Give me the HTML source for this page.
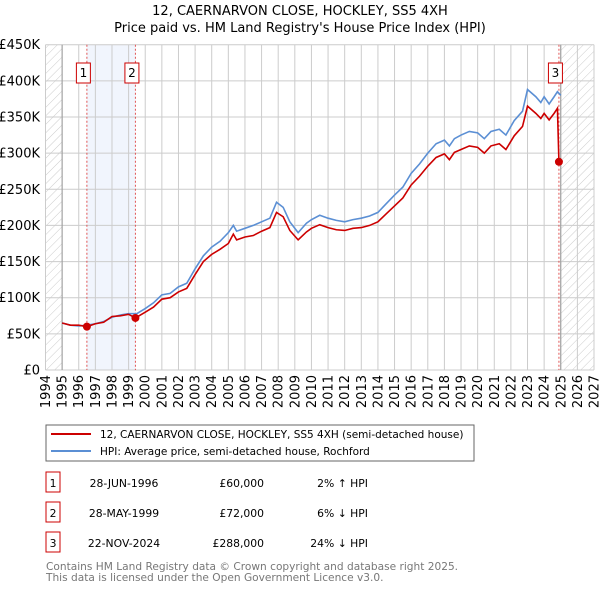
<!DOCTYPE html>
<html><head><meta charset="utf-8"><style>
body{margin:0;background:#fff;font-family:"Liberation Sans","DejaVu Sans",sans-serif;}
#wrap{position:relative;width:600px;height:590px;overflow:hidden;}
</style></head><body>
<div id="wrap">
<svg id="chart" width="600" height="590" xmlns="http://www.w3.org/2000/svg" font-family="DejaVu Sans, Liberation Sans, sans-serif">
<defs>
<pattern id="hatch" width="6" height="6" patternUnits="userSpaceOnUse" patternTransform="rotate(45)">
<line x1="0" y1="0" x2="0" y2="6" stroke="#ccc" stroke-width="1"/>
</pattern>
</defs>
<text x="300" y="15" text-anchor="middle" font-size="13">12, CAERNARVON CLOSE, HOCKLEY, SS5 4XH</text>
<text x="300" y="32" text-anchor="middle" font-size="13">Price paid vs. HM Land Registry's House Price Index (HPI)</text>
<g id="plot"></g>
<g id="legend">
<rect x="46" y="425" width="428" height="36" fill="#fff" stroke="#666"/>
<line x1="51" y1="434" x2="91" y2="434" stroke="#cc0000" stroke-width="2"/>
<text x="100" y="438" font-size="10.5">12, CAERNARVON CLOSE, HOCKLEY, SS5 4XH (semi-detached house)</text>
<line x1="51" y1="451" x2="91" y2="451" stroke="#5b8fd4" stroke-width="2"/>
<text x="100" y="455" font-size="10.5">HPI: Average price, semi-detached house, Rochford</text>
</g>
<g id="table" font-size="10.8"></g>
<text x="46" y="570" font-size="10.6" fill="#777">Contains HM Land Registry data © Crown copyright and database right 2025.</text>
<text x="46" y="581" font-size="10.6" fill="#777">This data is licensed under the Open Government Licence v3.0.</text>
</svg>
</div>
<script>
const hpiYears=[1995,1995.5,1996,1996.5,1997,1997.5,1998,1998.5,1999,1999.5,2000,2000.5,2001,2001.5,2002,2002.5,2003,2003.5,2004,2004.5,2005,2005.3,2005.5,2006,2006.5,2007,2007.5,2007.9,2008.3,2008.7,2009.2,2009.7,2010,2010.5,2011,2011.5,2012,2012.5,2013,2013.5,2014,2014.5,2015,2015.5,2016,2016.5,2017,2017.5,2018,2018.3,2018.6,2019,2019.5,2020,2020.4,2020.8,2021.3,2021.7,2022.2,2022.7,2023.0,2023.5,2023.8,2024.0,2024.3,2024.6,2024.8,2025.0];
const hpiValues=[65,62,61,62,64,67,73,76,78,78,85,93,104,106,115,120,140,158,170,178,190,200,192,196,200,205,210,232,225,205,190,203,208,214,210,207,205,208,210,213,218,230,242,253,272,285,300,313,318,310,320,325,330,328,320,330,333,325,345,358,388,378,370,378,368,378,385,380];
const priceYears=[1995,1995.5,1996,1996.49,1997,1997.5,1998,1998.5,1999,1999.41,2000,2000.5,2001,2001.5,2002,2002.5,2003,2003.5,2004,2004.5,2005,2005.3,2005.5,2006,2006.5,2007,2007.5,2007.9,2008.3,2008.7,2009.2,2009.7,2010,2010.5,2011,2011.5,2012,2012.5,2013,2013.5,2014,2014.5,2015,2015.5,2016,2016.5,2017,2017.5,2018,2018.3,2018.6,2019,2019.5,2020,2020.4,2020.8,2021.3,2021.7,2022.2,2022.7,2023.0,2023.5,2023.8,2024.0,2024.3,2024.6,2024.8,2024.89];
const priceValues=[65,62,62,60,64,66,74,75,77,72,80,87,98,100,108,113,132,150,160,167,175,188,180,184,186,192,197,218,212,193,180,191,196,201,197,194,193,196,197,200,205,216,227,238,256,268,282,294,299,291,301,305,310,308,300,310,313,305,324,337,365,355,348,355,346,355,362,288];
const saleLabels=["1","2","3"];
const saleYears=[1996.49,1999.41,2024.89];
const saleValues=[60,72,288];
const saleDates=["28-JUN-1996","28-MAY-1999","22-NOV-2024"];
const salePrices=["£60,000","£72,000","£288,000"];
const saleDiffs=["2% ↑ HPI","6% ↓ HPI","24% ↓ HPI"];
const yTicks=[0,50,100,150,200,250,300,350,400,450];
const yTickLabels=["£0","£50K","£100K","£150K","£200K","£250K","£300K","£350K","£400K","£450K"];
const xTicks=[1994,1995,1996,1997,1998,1999,2000,2001,2002,2003,2004,2005,2006,2007,2008,2009,2010,2011,2012,2013,2014,2015,2016,2017,2018,2019,2020,2021,2022,2023,2024,2025,2026,2027];

const X0=45.5,X1=594,Y0=370,Y1=44.7;
const xs=y=>X0+(y-1994)/(2027-1994)*(X1-X0);
const ys=v=>Y0-v/450*(Y0-Y1);
const NS="http://www.w3.org/2000/svg";
const plot=document.getElementById('plot');
function mk(tag,attrs,parent){const e=document.createElementNS(NS,tag);for(const k in attrs)e.setAttribute(k,attrs[k]);(parent||plot).appendChild(e);return e;}

let r=mk('rect',{x:xs(1994),y:Y1,width:xs(1995)-xs(1994),height:Y0-Y1,fill:'url(#hatch)'});


r=mk('rect',{x:xs(2025),y:Y1,width:xs(2027)-xs(2025),height:Y0-Y1,fill:'url(#hatch)'});


r=mk('rect',{x:xs(saleYears[0]),y:Y1,width:xs(saleYears[1])-xs(saleYears[0]),height:Y0-Y1,fill:'#eef3fc',opacity:0.8});



xTicks.forEach(t=>{
  const l=mk('line',{x1:xs(t),x2:xs(t),y1:Y1,y2:Y0,stroke:'#ccc','stroke-width':1});
  
  
  const x=xs(t)+4.5;
  const tx=mk('text',{x:x,y:375,transform:`rotate(-90 ${x} 375)`,'text-anchor':'end','font-size':13});
  tx.textContent=t;
  
  
});
yTicks.forEach((t,i)=>{
  const l=mk('line',{x1:X0,x2:X1,y1:ys(t),y2:ys(t),stroke:'#ccc','stroke-width':1});
  
  
  const tx=mk('text',{x:40,y:ys(t)+4.5,'text-anchor':'end','font-size':13});
  tx.textContent=yTickLabels[i];
  
  
});
[1995,2025].forEach(t=>{
  const l=mk('line',{x1:xs(t),x2:xs(t),y1:Y1,y2:Y0,stroke:'#999','stroke-width':1});
  
  
});
saleYears.forEach(y=>{
  const l=mk('line',{x1:xs(y),x2:xs(y),y1:Y1,y2:Y0,stroke:'#e05555','stroke-width':1,'stroke-dasharray':'2,2'});
  
  
});
let p=mk('polyline',{points:hpiYears.map((y,i)=>xs(y)+','+ys(hpiValues[i])).join(' '),fill:'none',stroke:'#5b8fd4','stroke-width':1.6});


p=mk('polyline',{points:priceYears.map((y,i)=>xs(y)+','+ys(priceValues[i])).join(' '),fill:'none',stroke:'#cc0000','stroke-width':1.6});


saleYears.forEach((y,i)=>{
  const c=mk('circle',{cx:xs(y),cy:ys(saleValues[i]),r:4,fill:'#cc0000'});
  
  
  const g=mk('g',{});
  
  
  mk('rect',{x:xs(y)-10.5,y:63,width:14,height:20,fill:'#fff',stroke:'#cc0000'},g);
  const t=mk('text',{x:xs(y)-3.5,y:77,'text-anchor':'middle','font-size':12},g);
  t.textContent=saleLabels[i];
});
const table=document.getElementById('table');
saleLabels.forEach((s,i)=>{
  const y=483+i*30;
  const g=mk('g',{},table);
  
  
  mk('rect',{x:46,y:y-11,width:14,height:20,fill:'#fff',stroke:'#cc0000'},g);
  let t=mk('text',{x:53,y:y+4,'text-anchor':'middle'},g);t.textContent=s;
  t=mk('text',{x:124,y:y+4,'text-anchor':'middle'},g);t.textContent=saleDates[i];
  t=mk('text',{x:264,y:y+4,'text-anchor':'end'},g);t.textContent=salePrices[i];
  t=mk('text',{x:368,y:y+4,'text-anchor':'end'},g);t.textContent=saleDiffs[i];
});
</script>
</body></html>
